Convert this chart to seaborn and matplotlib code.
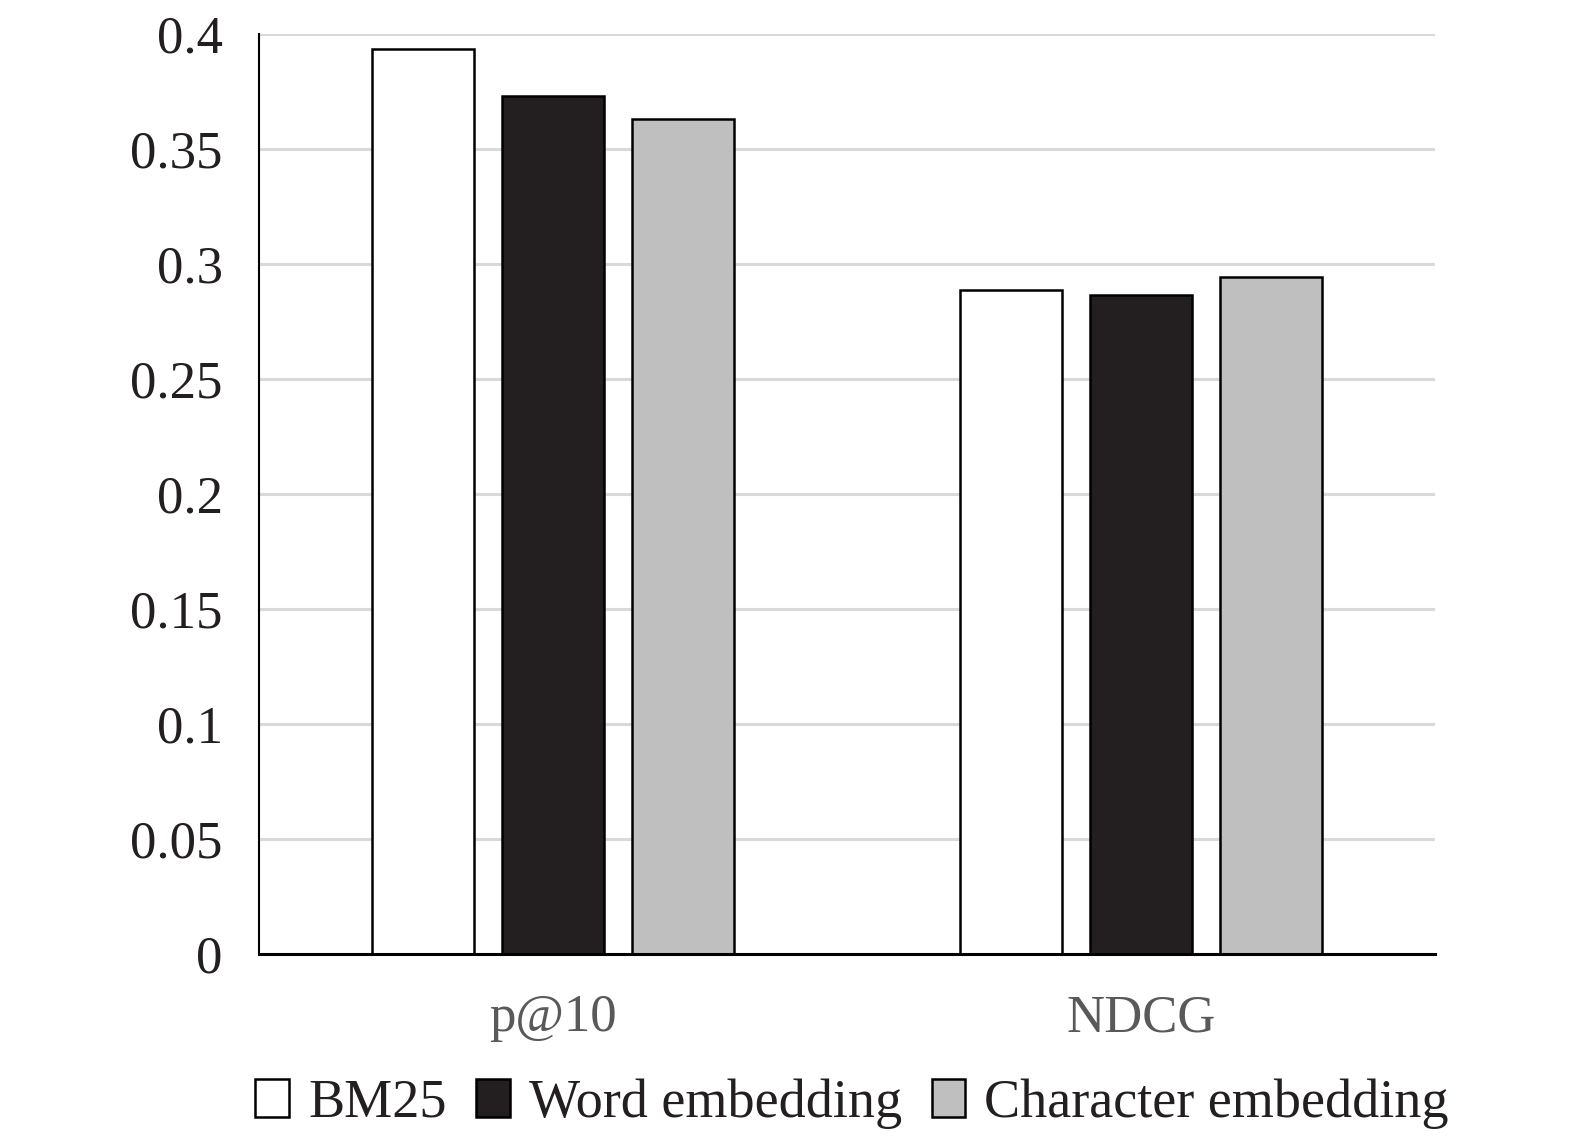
import pandas as pd
import matplotlib
matplotlib.use('Agg')
import matplotlib.pyplot as plt
import seaborn as sns

metrics = ['p@10', 'NDCG']
methods = ['BM25', 'Word embedding', 'Character embedding']
bm25 = [0.3935, 0.2887]
word_emb = [0.3730, 0.2865]
char_emb = [0.3630, 0.2943]

colors = ['#ffffff', '#231f20', '#bfbfbf']

rows = []
for name, vals in zip(methods, [bm25, word_emb, char_emb]):
    for m, v in zip(metrics, vals):
        rows.append({'Metric': m, 'Method': name, 'Score': v})
df = pd.DataFrame(rows)

sns.set_style('white')
plt.rcParams['font.family'] = ['Liberation Serif', 'DejaVu Serif']

fig = plt.figure(figsize=(15.75, 11.39), dpi=100)
ax = fig.add_axes([0.1644, 0.1624, 0.7467, 0.8077])

sns.barplot(data=df, x='Metric', y='Score', hue='Method', order=metrics,
            hue_order=methods, palette=colors, width=0.663, gap=0.215,
            edgecolor='black', linewidth=1.8, saturation=1, ax=ax, legend=True)

ax.set_ylim(0, 0.4)
ax.set_yticks([0, 0.05, 0.1, 0.15, 0.2, 0.25, 0.3, 0.35, 0.4])
ax.set_yticklabels(['0', '0.05', '0.1', '0.15', '0.2', '0.25', '0.3', '0.35', '0.4'])
ax.set_xlim(-0.5, 1.5)
ax.yaxis.grid(True, color='#d9d9d9', linewidth=2.2)
ax.set_axisbelow(True)
ax.set_xlabel('')
ax.set_ylabel('')

for s in ['top', 'right']:
    ax.spines[s].set_visible(False)
ax.spines['left'].set_color('black')
ax.spines['left'].set_linewidth(1.5)
ax.spines['bottom'].set_color('black')
ax.spines['bottom'].set_linewidth(2.2)

ax.tick_params(axis='y', length=0, pad=26, labelsize=38, labelcolor='#231f20')
ax.tick_params(axis='x', length=0, pad=29, labelsize=38, labelcolor='#595959')

handles, labels = ax.get_legend_handles_labels()
ax.get_legend().remove()
fig.legend(handles, labels, loc='center', bbox_to_anchor=(0.541, 0.031), ncol=3,
           frameon=False, fontsize=39, handlelength=0.62, handleheight=0.72,
           handletextpad=0.35, columnspacing=0.55, labelcolor='#231f20')

fig.savefig('out.png', dpi=100)
